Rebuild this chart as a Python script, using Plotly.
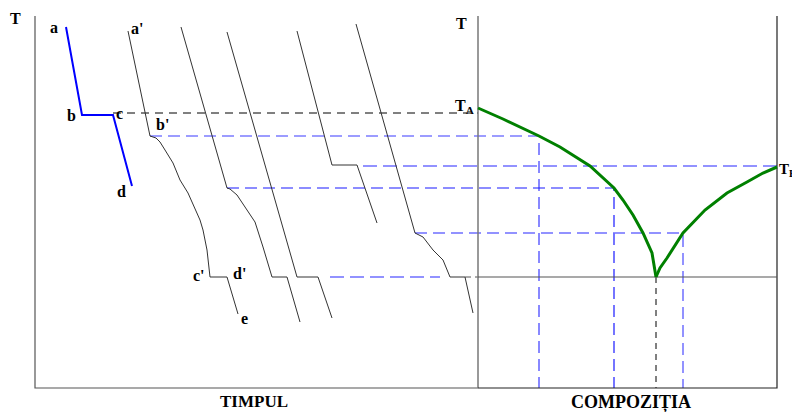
import plotly.graph_objects as go

# ---- data (diagram units: x = time / composition position, y = temperature level, top = high) ----
# axes frame
axis_left_x = [35, 35, 478]
axis_left_y = [16, 388, 388]
axis_mid_x = [478, 478]
axis_mid_y = [16, 388]
axis_right_x = [478, 777, 777]
axis_right_y = [388, 388, 16]
eutectic_x = [478, 777]
eutectic_y = [277, 277]

# pure metal cooling curve a-b-c-d (blue)
pure_x = [66, 82, 113, 132]
pure_y = [27, 115, 115, 186]

# alloy cooling curves (black/gray)
c1_x = [128, 150, 156, 160, 165, 173, 180, 188, 200, 203, 207, 210, 227, 238]
c1_y = [31, 136, 138, 142, 150, 163, 180, 193, 220, 230, 250, 277, 277, 314]
c2_x = [181, 227, 230, 237, 247, 255, 263, 272, 287, 300]
c2_y = [27, 188, 189, 195, 210, 222, 247, 277, 277, 322]
c3_x = [227, 297, 318, 332]
c3_y = [32, 277, 277, 318]
c4_x = [297, 332, 357, 377]
c4_y = [31, 165, 165, 223]
c5_x = [356, 415, 423, 433, 443, 450, 465, 473]
c5_y = [24, 233, 237, 250, 260, 277, 277, 313]

# liquidus curves (green)
liqA_x = [478, 503, 539, 560, 590, 614, 623, 633, 643, 652, 656]
liqA_y = [108, 119, 136, 147, 166, 188, 200, 215, 233, 253, 277]
liqB_x = [656, 660, 667, 683, 705, 727, 747, 763, 777]
liqB_y = [277, 268, 258, 233, 210, 193, 182, 173, 167]

# projection lines (dashed)
proj_black_x = [113, 478]
proj_black_y = [113, 113]
proj1_x = [150, 539, 539]
proj1_y = [136, 136, 388]
proj2_x = [363, 777]
proj2_y = [166, 166]
proj3_x = [227, 614, 614]
proj3_y = [188, 188, 388]
proj4_x = [415, 683, 683]
proj4_y = [233, 233, 388]
proj5_x = [330, 440]
proj5_y = [277, 277]
proj6_x = [465, 478]
proj6_y = [277, 277]
eut_drop_x = [656, 656]
eut_drop_y = [277, 388]

# the page body has an 8 px margin; the figure fills the rest of the window
PAGE_OFFSET = 8
VIEW_W, VIEW_H = 800, 412

fig = go.Figure()

def line(x, y, color, width, dash=None):
    fig.add_trace(go.Scatter(x=x, y=y, mode="lines", hoverinfo="skip",
                             line=dict(color=color, width=width, dash=dash)))

# dashed projections first (under curves)
line(proj_black_x, proj_black_y, "#000000", 1, "8px,6px")
line(proj1_x, proj1_y, "#3a3aff", 1.2, "12px,6px")
line(proj2_x, proj2_y, "#6f6fff", 1.5, "14px,6px")
line(proj3_x, proj3_y, "#1a1aff", 1.2, "12px,6px")
line(proj4_x, proj4_y, "#6f6fff", 1.5, "12px,6px")
line(proj5_x, proj5_y, "#6f6fff", 1.5, "14px,6px")
line(proj6_x, proj6_y, "#555555", 1, "6px,4px")
line(eut_drop_x, eut_drop_y, "#000000", 1, "6px,5px")

# axes
line(axis_left_x, axis_left_y, "#555555", 1.2)
line(axis_mid_x, axis_mid_y, "#777777", 1.5)
line(axis_right_x, axis_right_y, "#222222", 1.2)
line(eutectic_x, eutectic_y, "#555555", 1.2)

# cooling curves
line(pure_x, pure_y, "#0000ff", 2)
for cx, cy in [(c1_x, c1_y), (c2_x, c2_y), (c3_x, c3_y), (c4_x, c4_y), (c5_x, c5_y)]:
    line(cx, cy, "#333333", 1)

# liquidus
line(liqA_x, liqA_y, "#008000", 3)
line(liqB_x, liqB_y, "#008000", 3)

font = dict(family="Liberation Serif, Times New Roman, serif", size=16, color="black")
labels = [
    (15, 18, "<b>T</b>", 16, "center"),
    (461, 23, "<b>T</b>", 16, "center"),
    (54, 27, "<b>a</b>", 16, "center"),
    (71, 115, "<b>b</b>", 16, "center"),
    (119, 113, "<b>c</b>", 16, "center"),
    (121, 191, "<b>d</b>", 16, "center"),
    (137, 28, "<b>a'</b>", 16, "center"),
    (162, 124, "<b>b'</b>", 16, "center"),
    (199, 275, "<b>c'</b>", 16, "center"),
    (239, 273, "<b>d'</b>", 16, "center"),
    (244, 318, "<b>e</b>", 16, "center"),
    (464, 106, "<b>T<sub>A</sub></b>", 16, "center"),
    (778, 170, "<b>T<sub>B</sub></b>", 15, "left"),
    (254, 401, "<b>TIMPUL</b>", 17, "center"),
    (631, 402, "<b>COMPOZIȚIA</b>", 18, "center"),
]
for x, y, t, s, anc in labels:
    f = dict(font)
    f["size"] = s
    fig.add_annotation(x=x, y=y, text=t, showarrow=False, font=f,
                       xanchor=anc, yanchor="middle", borderpad=0)

fig.update_layout(
    width=VIEW_W - PAGE_OFFSET, height=VIEW_H - PAGE_OFFSET,
    margin=dict(l=0, r=0, t=0, b=0, pad=0),
    paper_bgcolor="white", plot_bgcolor="white",
    showlegend=False,
    xaxis=dict(range=[PAGE_OFFSET, VIEW_W], visible=False, fixedrange=True),
    yaxis=dict(range=[VIEW_H, PAGE_OFFSET], visible=False, fixedrange=True),
)

fig.write_html("out.html", config={"displayModeBar": False})
